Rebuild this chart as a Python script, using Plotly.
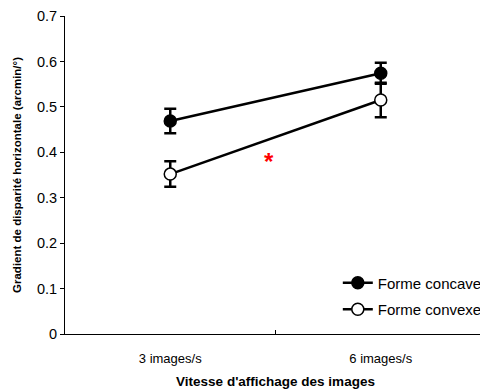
import plotly.graph_objects as go

categories = ["3 images/s", "6 images/s"]
concave = [0.469, 0.574]
concave_err = [0.027, 0.023]
convexe = [0.352, 0.515]
convexe_err = [0.028, 0.038]
star_pos = 0.47
star_val = 0.38
yticks = [0, 0.1, 0.2, 0.3, 0.4, 0.5, 0.6, 0.7]
yticklabels = ["0", "0.1", "0.2", "0.3", "0.4", "0.5", "0.6", "0.7"]

fig = go.Figure()
fig.add_trace(go.Scatter(
    x=categories, y=concave, name="Forme concave", mode="lines+markers", legendgroup="a",
    line=dict(color="black", width=2.5),
    marker=dict(color="black", size=12, line=dict(color="black", width=1.5)),
    error_y=dict(type="data", array=concave_err, color="black", thickness=2.5, width=6),
))
fig.add_trace(go.Scatter(
    x=categories, y=convexe, name="Forme convexe", mode="lines+markers", legendgroup="b",
    line=dict(color="black", width=2.5),
    marker=dict(color="white", size=12, line=dict(color="black", width=1.5)),
    error_y=dict(type="data", array=convexe_err, color="black", thickness=2.5, width=6),
))
fig.add_annotation(x=star_pos, y=star_val, xref="x", yref="y", text="<b>*</b>",
                   showarrow=False, font=dict(color="red", size=24, family="Liberation Sans"))

fig.update_layout(
    width=480, height=381,
    margin=dict(l=57, r=2, t=8, b=55, autoexpand=False),
    plot_bgcolor="white", paper_bgcolor="white",
    font=dict(family="Liberation Sans, Arial", size=13, color="black"),
    showlegend=True,
    legend=dict(x=0.648, xanchor="left", y=0.027, yanchor="bottom", bgcolor="rgba(0,0,0,0)",
                font=dict(size=15), itemwidth=30, tracegroupgap=4),
)
fig.update_xaxes(
    type="category", range=[-0.5, 1.5], tickson="boundaries", automargin=False,
    showline=True, linecolor="black", linewidth=1, ticks="inside", ticklen=4, tickcolor="black",
    showgrid=False, zeroline=False, ticklabelstandoff=12, tickfont=dict(size=13),
    title=dict(text="<b>Vitesse d'affichage des images</b>", font=dict(size=13.5), standoff=14),
)
fig.update_yaxes(
    range=[0, 0.7], tickvals=yticks, ticktext=yticklabels, automargin=False,
    showline=True, linecolor="black", linewidth=1, ticks="outside", ticklen=4, tickcolor="black",
    showgrid=False, zeroline=False, tickfont=dict(size=14.5),
    title=dict(text="<b>Gradient de disparité horizontale (arcmin/°)</b>", font=dict(size=11.5), standoff=12),
)

fig.write_html("out.html")
